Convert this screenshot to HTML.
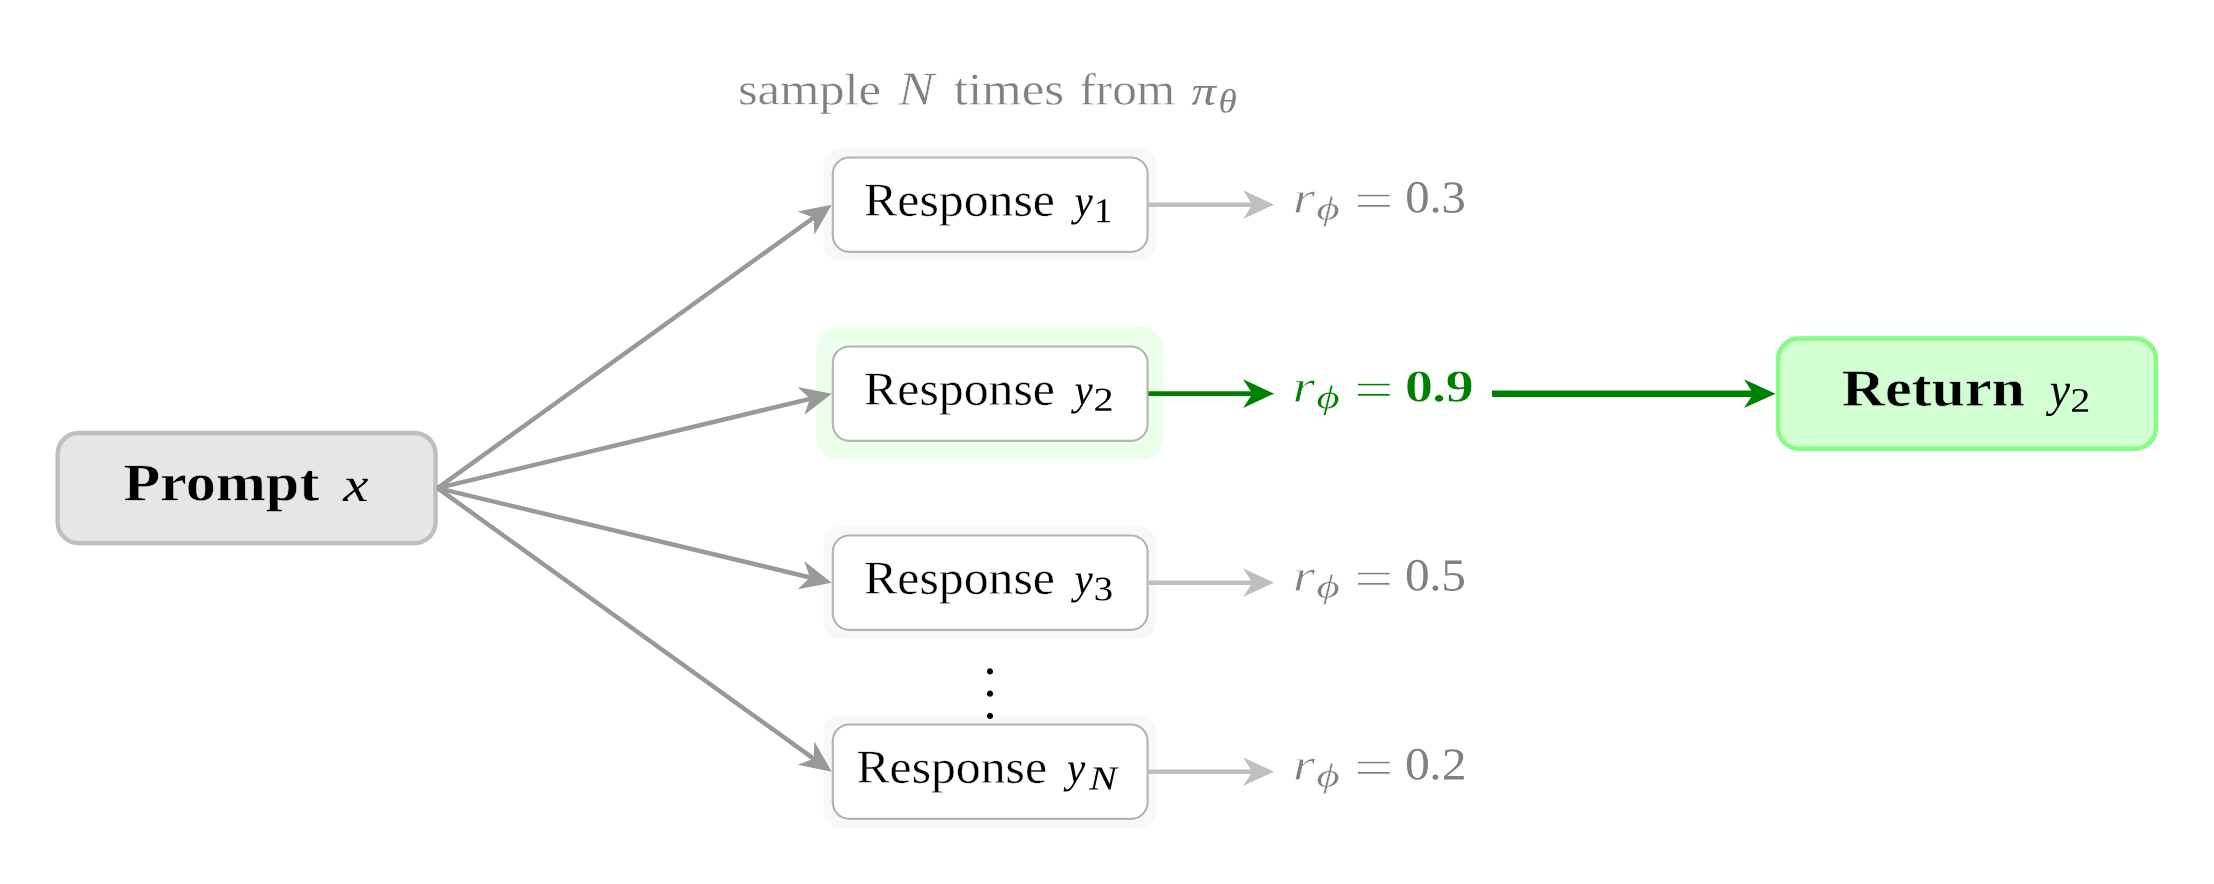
<!DOCTYPE html>
<html lang="en"><head><meta charset="utf-8"><title>Best-of-N sampling</title>
<style>
html,body{margin:0;padding:0;background:#fff}
body{width:2214px;height:884px}
svg{display:block;will-change:transform}
text{font-family:"Liberation Serif",serif;white-space:pre}
</style></head>
<body>
<svg width="2214" height="884" viewBox="0 0 2214 884">
<g id="shapes">
<rect x="823.5" y="148.4" width="332.8" height="112.4" rx="17" fill="#f8f8f8"/>
<rect x="816.1" y="326.3" width="348.2" height="134.5" rx="26" fill="#ebffeb"/>
<rect x="823.5" y="526.4" width="332.8" height="112.4" rx="17" fill="#f8f8f8"/>
<rect x="823.5" y="715.4" width="332.8" height="112.4" rx="17" fill="#f8f8f8"/>
<rect x="832.8" y="157.45" width="314.8" height="94.4" rx="16.5" fill="#fff" stroke="#b3b3b3" stroke-width="2.1"/>
<rect x="832.8" y="346.45" width="314.8" height="94.4" rx="16.5" fill="#fff" stroke="#b3b3b3" stroke-width="2.1"/>
<rect x="832.8" y="535.45" width="314.8" height="94.4" rx="16.5" fill="#fff" stroke="#b3b3b3" stroke-width="2.1"/>
<rect x="832.8" y="724.45" width="314.8" height="94.4" rx="16.5" fill="#fff" stroke="#b3b3b3" stroke-width="2.1"/>
<rect x="57.65" y="432.95" width="377.9" height="110.25" rx="21" fill="#e6e6e6" stroke="#bfbfbf" stroke-width="4.4"/>
<rect x="1778.15" y="338.5" width="377.9" height="110.25" rx="21" fill="#d1ffd1" stroke="#80ff80" stroke-width="4.4"/>
<line x1="437.60" y1="488.10" x2="816.28" y2="215.74" stroke="#999" stroke-width="4.5"/>
<polygon points="831.70,204.65 797.70,211.49 813.60,217.67 814.40,234.71" fill="#999"/>
<line x1="437.60" y1="488.10" x2="813.22" y2="398.08" stroke="#999" stroke-width="4.5"/>
<polygon points="831.70,393.65 797.64,387.11 810.01,398.85 804.30,414.92" fill="#999"/>
<line x1="437.60" y1="488.10" x2="813.22" y2="578.22" stroke="#999" stroke-width="4.5"/>
<polygon points="831.70,582.65 804.31,561.37 810.02,577.45 797.64,589.18" fill="#999"/>
<line x1="437.60" y1="488.10" x2="816.28" y2="760.55" stroke="#999" stroke-width="4.5"/>
<polygon points="831.70,771.65 814.40,741.59 813.60,758.63 797.70,764.80" fill="#999"/>
<line x1="1148.4" y1="204.65" x2="1256" y2="204.65" stroke="#bfbfbf" stroke-width="4.5"/>
<polygon points="1274.10,204.65 1243.10,190.35 1252.40,204.65 1243.10,218.95" fill="#bfbfbf"/>
<line x1="1148.4" y1="393.65" x2="1256" y2="393.65" stroke="#008000" stroke-width="4.7"/>
<polygon points="1274.10,393.65 1243.10,379.35 1252.40,393.65 1243.10,407.95" fill="#008000"/>
<line x1="1148.4" y1="582.65" x2="1256" y2="582.65" stroke="#bfbfbf" stroke-width="4.5"/>
<polygon points="1274.10,582.65 1243.10,568.35 1252.40,582.65 1243.10,596.95" fill="#bfbfbf"/>
<line x1="1148.4" y1="771.65" x2="1256" y2="771.65" stroke="#bfbfbf" stroke-width="4.5"/>
<polygon points="1274.10,771.65 1243.10,757.35 1252.40,771.65 1243.10,785.95" fill="#bfbfbf"/>
<line x1="1492" y1="393.65" x2="1757" y2="393.65" stroke="#008000" stroke-width="6.5"/>
<polygon points="1775.60,393.65 1744.00,379.35 1753.30,393.65 1744.00,407.95" fill="#008000"/>
</g>
<g id="labels">
<text transform="matrix(1.1490 0.00115 -0.00101 1.0098 737.88 104.33)" font-size="44" fill="#808080" stroke="#fff" stroke-width="0.4" vector-effect="non-scaling-stroke">sample</text>
<text transform="matrix(1.2254 0.00123 -0.00108 1.0817 898.14 104.83)" font-size="44" fill="#808080" font-style="italic" stroke="#fff" stroke-width="0.5" vector-effect="non-scaling-stroke">N</text>
<text transform="matrix(1.1582 0.00116 -0.00103 1.0339 953.81 104.53)" font-size="44" fill="#808080" stroke="#fff" stroke-width="0.4" vector-effect="non-scaling-stroke">times</text>
<text transform="matrix(1.1174 0.00112 -0.00103 1.0254 1079.39 104.54)" font-size="44" fill="#808080" stroke="#fff" stroke-width="0.4" vector-effect="non-scaling-stroke">from</text>
<text transform="matrix(1.1077 0.00111 -0.00092 0.9157 1191.51 104.43)" font-size="44" fill="#808080" font-style="italic">π</text>
<text transform="matrix(1.1630 0.00116 -0.00106 1.0578 1218.44 112.43)" font-size="32" fill="#808080" font-style="italic">θ</text>
<text transform="matrix(1.1319 0.00113 -0.00107 1.0678 864.07 215.60)" font-size="44" fill="#000" stroke="#fff" stroke-width="0.4" vector-effect="non-scaling-stroke">Response</text>
<text transform="matrix(0.9333 0.00093 -0.00098 0.9815 1074.59 215.27)" font-size="44" fill="#000" font-style="italic">y</text>
<text transform="matrix(1.1556 0.00116 -0.00109 1.0905 1093.91 222.19)" font-size="32" fill="#000">1</text>
<text transform="matrix(1.1319 0.00113 -0.00107 1.0678 864.07 404.60)" font-size="44" fill="#000" stroke="#fff" stroke-width="0.4" vector-effect="non-scaling-stroke">Response</text>
<text transform="matrix(0.9333 0.00093 -0.00098 0.9815 1074.59 404.27)" font-size="44" fill="#000" font-style="italic">y</text>
<text transform="matrix(1.2549 0.00125 -0.00104 1.0447 1093.51 410.69)" font-size="32" fill="#000">2</text>
<text transform="matrix(1.1319 0.00113 -0.00107 1.0678 864.07 593.60)" font-size="44" fill="#000" stroke="#fff" stroke-width="0.4" vector-effect="non-scaling-stroke">Response</text>
<text transform="matrix(0.9333 0.00093 -0.00098 0.9815 1074.59 593.27)" font-size="44" fill="#000" font-style="italic">y</text>
<text transform="matrix(1.2075 0.00121 -0.00107 1.0744 1093.78 600.32)" font-size="32" fill="#000">3</text>
<text transform="matrix(1.1307 0.00113 -0.00107 1.0678 856.38 782.60)" font-size="44" fill="#000" stroke="#fff" stroke-width="0.4" vector-effect="non-scaling-stroke">Response</text>
<text transform="matrix(0.9333 0.00093 -0.00098 0.9815 1066.99 782.27)" font-size="44" fill="#000" font-style="italic">y</text>
<text transform="matrix(1.2957 0.00130 -0.00106 1.0571 1089.31 789.39)" font-size="32" fill="#000" font-style="italic">N</text>
<text transform="matrix(1.3032 0.00130 -0.00102 1.0217 1292.81 212.69)" font-size="44" fill="#808080" font-style="italic" stroke="#fff" stroke-width="0.8" vector-effect="non-scaling-stroke">r</text>
<text transform="matrix(1.4000 0.00140 -0.00103 1.0345 1316.54 219.41)" font-size="32" fill="#808080" font-style="italic" stroke="#fff" stroke-width="0.4" vector-effect="non-scaling-stroke">ϕ</text>
<text transform="matrix(1.6098 0.00161 -0.00118 1.1814 1353.76 218.01)" font-size="44" fill="#808080" stroke="#fff" stroke-width="1" vector-effect="non-scaling-stroke">=</text>
<text transform="matrix(1.1048 0.00110 -0.00104 1.0387 1405.13 212.35)" font-size="44" fill="#808080" dx="0.000 -0.026 0.030">0.3</text>
<text transform="matrix(1.3161 0.00132 -0.00103 1.0265 1292.59 401.79)" font-size="44" fill="#008000" font-style="italic" stroke="#fff" stroke-width="0.8" vector-effect="non-scaling-stroke">r</text>
<text transform="matrix(1.4000 0.00140 -0.00104 1.0414 1316.54 408.36)" font-size="32" fill="#008000" font-style="italic" stroke="#fff" stroke-width="0.4" vector-effect="non-scaling-stroke">ϕ</text>
<text transform="matrix(1.6098 0.00161 -0.00118 1.1814 1353.76 407.01)" font-size="44" fill="#008000" stroke="#fff" stroke-width="1" vector-effect="non-scaling-stroke">=</text>
<text transform="matrix(1.2901 0.00129 -0.00104 1.0387 1404.79 401.40)" font-size="44" fill="#008000" font-weight="bold" stroke="#fff" stroke-width="0.7" vector-effect="non-scaling-stroke" dx="0.000 -0.919 -0.601">0.9</text>
<text transform="matrix(1.3032 0.00130 -0.00102 1.0217 1292.81 590.69)" font-size="44" fill="#808080" font-style="italic" stroke="#fff" stroke-width="0.8" vector-effect="non-scaling-stroke">r</text>
<text transform="matrix(1.4000 0.00140 -0.00103 1.0345 1316.54 597.41)" font-size="32" fill="#808080" font-style="italic" stroke="#fff" stroke-width="0.4" vector-effect="non-scaling-stroke">ϕ</text>
<text transform="matrix(1.6098 0.00161 -0.00118 1.1814 1353.76 596.01)" font-size="44" fill="#808080" stroke="#fff" stroke-width="1" vector-effect="non-scaling-stroke">=</text>
<text transform="matrix(1.1200 0.00112 -0.00104 1.0387 1404.97 590.35)" font-size="44" fill="#808080" dx="0.000 -0.250 -0.446">0.5</text>
<text transform="matrix(1.3032 0.00130 -0.00102 1.0217 1292.81 779.69)" font-size="44" fill="#808080" font-style="italic" stroke="#fff" stroke-width="0.8" vector-effect="non-scaling-stroke">r</text>
<text transform="matrix(1.4000 0.00140 -0.00103 1.0345 1316.54 786.41)" font-size="32" fill="#808080" font-style="italic" stroke="#fff" stroke-width="0.4" vector-effect="non-scaling-stroke">ϕ</text>
<text transform="matrix(1.6098 0.00161 -0.00118 1.1814 1353.76 785.01)" font-size="44" fill="#808080" stroke="#fff" stroke-width="1" vector-effect="non-scaling-stroke">=</text>
<text transform="matrix(1.1278 0.00113 -0.00104 1.0387 1404.88 779.35)" font-size="44" fill="#808080" dx="0.000 -0.362 0.065">0.2</text>
<text transform="matrix(1.2025 0.00120 -0.00106 1.0595 123.39 500.20)" font-size="50" fill="#000" font-weight="bold" stroke="#e6e6e6" stroke-width="0.6" vector-effect="non-scaling-stroke">Prompt</text>
<text transform="matrix(1.1326 0.00113 -0.00097 0.9696 343.26 500.99)" font-size="50" fill="#000" font-style="italic">x</text>
<text transform="matrix(1.1993 0.00120 -0.00104 1.0443 1841.68 405.71)" font-size="50" fill="#000" font-weight="bold" stroke="#d1ffd1" stroke-width="0.6" vector-effect="non-scaling-stroke">Return</text>
<text transform="matrix(0.9132 0.00091 -0.00096 0.9600 2049.68 405.87)" font-size="50" fill="#000" font-style="italic">y</text>
<text transform="matrix(1.2549 0.00125 -0.00107 1.0729 2070.21 411.79)" font-size="32" fill="#000">2</text>
<text transform="matrix(1.1800 0.00118 -0.00118 1.1800 983.51 673.75)" font-size="44" fill="#000">.</text>
<text transform="matrix(1.1800 0.00118 -0.00118 1.1800 983.51 696.05)" font-size="44" fill="#000">.</text>
<text transform="matrix(1.1800 0.00118 -0.00118 1.1800 983.51 718.15)" font-size="44" fill="#000">.</text>
</g>
</svg>
</body></html>
